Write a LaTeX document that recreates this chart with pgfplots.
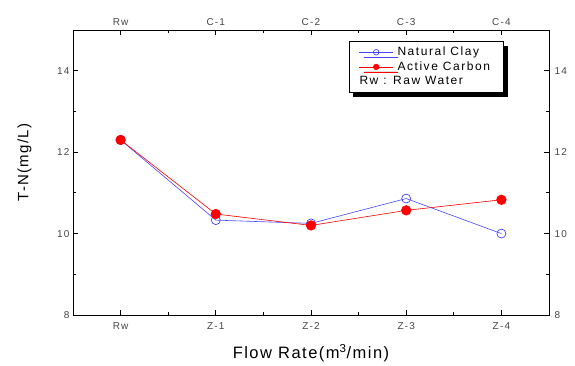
\documentclass[border=0pt]{standalone}
\usepackage{fontspec}
\setmainfont{Liberation Sans}
\newfontfamily\spaced[LetterSpace=12]{Liberation Sans}
\newfontfamily\lspaced[LetterSpace=9]{Liberation Sans}
\newfontfamily\legfont[LetterSpace=13]{Liberation Sans}
\usepackage{pgfplots}
\pgfplotsset{compat=1.18}
\usetikzlibrary{shadows}
\definecolor{myblue}{RGB}{70,70,255}
\definecolor{tickgray}{RGB}{70,70,70}
\pgfplotsset{
  mylegimg/.style={legend image code/.code={
    \path (0pt,0pt) (44pt,0pt);
    \draw[mark repeat=2,mark phase=2,mark size=2.8pt] plot coordinates {(8pt,0pt) (25pt,0pt) (42pt,0pt)};}}
}
\begin{document}
\begin{tikzpicture}
\useasboundingbox (0pt,0pt) rectangle (575pt,366pt);
\begin{axis}[
  at={(73pt,51pt)}, anchor=south west,
  scale only axis, width=476pt, height=285pt,
  xmin=-0.5, xmax=4.5, ymin=8, ymax=15,
  xtick={0,1,2,3,4}, xticklabels={Rw,Z-1,Z-2,Z-3,Z-4},
  ytick={8,10,12,14},
  minor x tick num=1, minor y tick num=1,
  tick align=inside,
  major tick length=5pt, minor tick length=3pt,
  axis line style={line width=0.8pt},
  every tick/.style={black, line width=0.8pt},
  ticklabel style={font=\spaced\fontsize{10}{11}\selectfont, text=tickgray},
  xticklabel style={yshift=-4pt},
  /pgf/number format/assume math mode=true,
  xticklabel pos=lower, yticklabel pos=left,
  xlabel={\lspaced\fontsize{16.5}{18}\selectfont Flow Rate(m\textsuperscript{3}/min)},
  ylabel={\lspaced\fontsize{15}{17}\selectfont T-N(mg/L)},
  xlabel style={at={(axis description cs:0.5,0)}, anchor=base, yshift=-44pt},
  ylabel style={at={(axis description cs:0,0.535)}, anchor=south, yshift=38pt},
  legend style={at={(rel axis cs:0.579,0.962)}, anchor=north west,
    draw=black, line width=0.6pt, fill=white,
    drop shadow={shadow xshift=4.5pt, shadow yshift=-5pt, fill=black, opacity=1},
    font=\legfont\fontsize{12}{13}\selectfont, row sep=0.5pt,
    inner xsep=2pt, inner ysep=4pt},
  legend cell align=left,
]
\addplot[myblue, line width=0.6pt, mark=o, mark size=4.5pt, mark options={line width=0.7pt},
  mylegimg] coordinates {(0,12.3) (1,10.33) (2,10.25) (3,10.86) (4,10.0)};
\addlegendentry{Natural Clay}
\addplot[red, line width=0.6pt, mark=*, mark size=4.8pt,
  mylegimg] coordinates {(0,12.3) (1,10.48) (2,10.2) (3,10.57) (4,10.83)};
\addlegendentry{Active Carbon\hspace*{9pt}}
\addlegendimage{empty legend}
\addlegendentry{\hspace*{-38pt}Rw : Raw Water}
\end{axis}
\begin{axis}[
  at={(73pt,51pt)}, anchor=south west,
  scale only axis, width=476pt, height=285pt,
  xmin=-0.5, xmax=4.5, ymin=8, ymax=15,
  xtick={0,1,2,3,4}, xticklabels={Rw,C-1,C-2,C-3,C-4},
  ytick={8,10,12,14},
  major tick length=0pt,
  axis line style={line width=0.8pt},
  ticklabel style={font=\spaced\fontsize{10}{11}\selectfont, text=tickgray},
  /pgf/number format/assume math mode=true,
  xticklabel pos=upper, yticklabel pos=right,
  xticklabel style={yshift=1pt},
  yticklabel style={xshift=2pt},
]
\end{axis}
\end{tikzpicture}
\end{document}
